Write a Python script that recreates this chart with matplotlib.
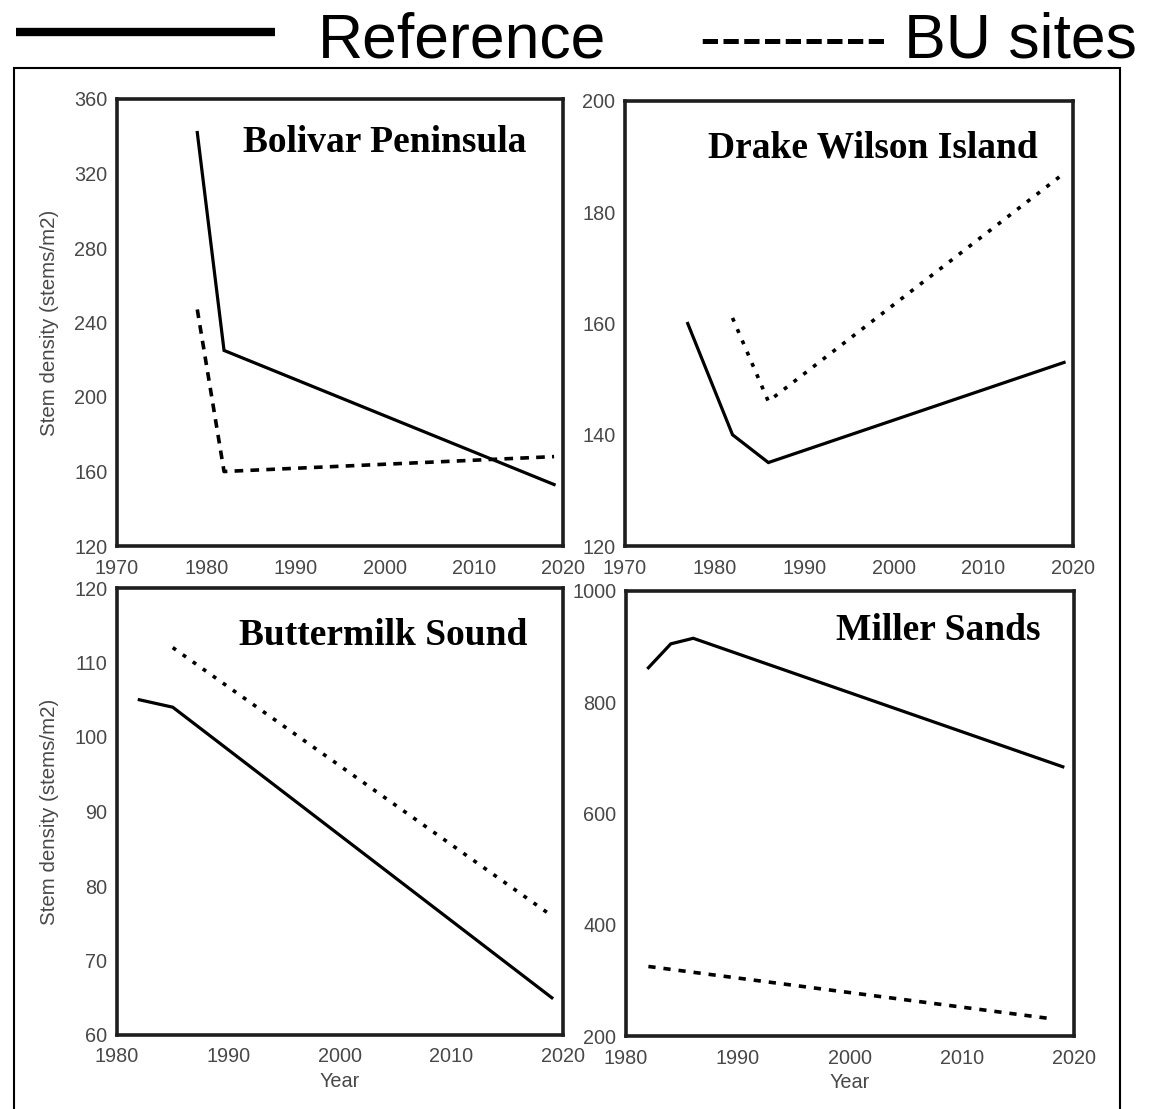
import numpy as np
import matplotlib
matplotlib.use("Agg")
import matplotlib.pyplot as plt
from matplotlib.lines import Line2D
from matplotlib.patches import Rectangle

# donnees
bolivar_ref_years = [1979, 1982, 2019]
bolivar_ref = [342, 225, 153]
bolivar_bu_years = [1979, 1982, 2019]
bolivar_bu = [247, 160, 168]

drake_ref_years = [1977, 1982, 1986, 2019]
drake_ref = [160, 140, 135, 153]
drake_bu_years = [1982, 1986, 2019]
drake_bu = [161, 146, 187]

butter_ref_years = [1982, 1985, 2019]
butter_ref = [105, 104, 65]
butter_bu_years = [1985, 2019]
butter_bu = [112, 76]

miller_ref_years = [1982, 1984, 1986, 2019]
miller_ref = [862, 905, 915, 684]
miller_bu_years = [1982, 2018]
miller_bu = [325, 231]

titles = ["Bolivar Peninsula", "Drake Wilson Island", "Buttermilk Sound", "Miller Sands"]
xticks_top = [1970, 1980, 1990, 2000, 2010, 2020]
xticks_bottom = [1980, 1990, 2000, 2010, 2020]
yticks = [[120, 160, 200, 240, 280, 320, 360],
          [120, 140, 160, 180, 200],
          [60, 70, 80, 90, 100, 110, 120],
          [200, 400, 600, 800, 1000]]

plt.rcParams['font.family'] = ['Liberation Sans', 'DejaVu Sans']

W, H = 1170, 1109
fig = plt.figure(figsize=(W / 100, H / 100), dpi=100)

def box(l, t, r, b):
    # position en pixels -> fraction de figure
    return [l / W, 1 - b / H, (r - l) / W, (b - t) / H]

positions = [box(117, 99, 563, 546), box(625, 101, 1073, 546),
             box(117, 588, 563, 1035), box(626, 591, 1074, 1036)]
title_off = [(-37, -53), (-35, -56), (-36, -57), (-34, -49)]

series = [(bolivar_ref_years, bolivar_ref, bolivar_bu_years, bolivar_bu),
          (drake_ref_years, drake_ref, drake_bu_years, drake_bu),
          (butter_ref_years, butter_ref, butter_bu_years, butter_bu),
          (miller_ref_years, miller_ref, miller_bu_years, miller_bu)]
dashes = [(0, (2.4, 2.0)), (0, (1.1, 2.3)), (0, (1.1, 2.3)), (0, (2.0, 2.2))]

gray = '#484848'
for i in range(4):
    ax = fig.add_axes(positions[i])
    ry, rv, by, bv = series[i]
    ax.plot(ry, rv, color='black', lw=2.3, solid_joinstyle='miter')
    ax.plot(by, bv, color='black', lw=2.6, linestyle=dashes[i])

    if i < 2:
        ax.set_xlim(1970, 2020)
        ax.set_xticks(xticks_top)
    else:
        ax.set_xlim(1980, 2020)
        ax.set_xticks(xticks_bottom)
        ax.set_xlabel("Year", fontsize=14.3, color=gray, labelpad=4)
    ax.set_ylim(yticks[i][0], yticks[i][-1])
    ax.set_yticks(yticks[i])
    if i % 2 == 0:
        ax.set_ylabel("Stem density (stems/m2)", fontsize=14.8, color=gray)
        ax.yaxis.set_label_coords(-0.13, 0.5)

    ax.tick_params(length=0, labelsize=14.3, labelcolor=gray)
    ax.tick_params(axis='x', pad=9)
    ax.tick_params(axis='y', pad=7)
    for s in ax.spines.values():
        s.set_linewidth(2.6)
        s.set_color('#1e1e1e')

    ax.annotate(titles[i], xy=(1, 1), xycoords='axes fraction',
                xytext=title_off[i], textcoords='offset pixels',
                ha='right', va='baseline', fontsize=27, fontweight='bold',
                family='Liberation Serif', color='black')

# cadre exterieur
fig.add_artist(Rectangle((14 / W, -0.02), (1120 - 14) / W, 1 - 68 / H + 0.02,
                         transform=fig.transFigure, fill=False,
                         edgecolor='black', lw=1.5))

# legende en haut
fig.add_artist(Line2D([16 / W, 275 / W], [1 - 32 / H, 1 - 32 / H],
                      transform=fig.transFigure, color='black', lw=6,
                      solid_capstyle='butt'))
fig.text(318 / W, 1 - 57 / H, "Reference", fontsize=45, ha='left', va='baseline')
fig.text(700 / W, 1 - 57 / H, "--------- BU sites", fontsize=45, ha='left', va='baseline')

plt.savefig('out.png', dpi=100)
plt.close('all')
